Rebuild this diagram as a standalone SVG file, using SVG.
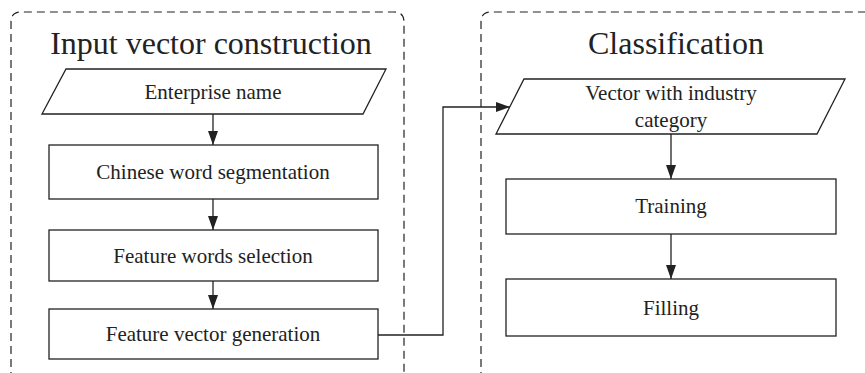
<svg xmlns="http://www.w3.org/2000/svg" width="865" height="373" viewBox="0 0 865 373">
<defs>
<style>
.box{fill:#fff;stroke:#222;stroke-width:1.3}
.cont{fill:none;stroke:#222;stroke-width:1.2;stroke-dasharray:8 5}
.lbl{font-family:"Liberation Serif","Times New Roman",serif;font-size:21px;fill:#222;text-anchor:middle}
.ttl{font-family:"Liberation Serif","Times New Roman",serif;font-size:32px;fill:#222;text-anchor:middle}
.edge{fill:none;stroke:#222;stroke-width:1.3}
</style>
<marker id="ahv" viewBox="0 0 14 10" refX="14" refY="5" markerWidth="14" markerHeight="10" markerUnits="userSpaceOnUse" orient="auto">
<path d="M0,0 L14,5 L0,10 Z" fill="#222"/>
</marker>
</defs>
<g id="container-input">
<path class="cont" d="M11,380 L11,22 Q11,12 21,12 L394,12 Q404,12 404,22 L404,380"/>
<text class="ttl" x="211" y="54">Input vector construction</text>
</g>
<g id="container-classification">
<path class="cont" d="M481,380 L481,22 Q481,12 491,12 L880,12"/>
<text class="ttl" x="676" y="54">Classification</text>
</g>
<g id="connectors">
<line class="edge" x1="213" y1="114" x2="213" y2="145" marker-end="url(#ahv)"/>
<line class="edge" x1="213" y1="199" x2="213" y2="230" marker-end="url(#ahv)"/>
<line class="edge" x1="213" y1="281" x2="213" y2="309" marker-end="url(#ahv)"/>
<polyline class="edge" points="378,335 443,335 443,107 510,107" marker-end="url(#ahv)"/>
<line class="edge" x1="671" y1="134" x2="671" y2="179" marker-end="url(#ahv)"/>
<line class="edge" x1="671" y1="234" x2="671" y2="279" marker-end="url(#ahv)"/>
</g>
<g id="enterprise-name">
<polygon class="box" points="66,69 386,69 363,114 42,114"/>
<text class="lbl" x="213" y="99">Enterprise name</text>
</g>
<g id="chinese-word-segmentation">
<rect class="box" x="49" y="145" width="329" height="54"/>
<text class="lbl" x="213" y="179">Chinese word segmentation</text>
</g>
<g id="feature-words-selection">
<rect class="box" x="49" y="230" width="329" height="51"/>
<text class="lbl" x="213" y="263">Feature words selection</text>
</g>
<g id="feature-vector-generation">
<rect class="box" x="49" y="309" width="329" height="50"/>
<text class="lbl" x="213" y="341">Feature vector generation</text>
</g>
<g id="vector-with-industry-category">
<polygon class="box" points="524,79 845,79 817,134 496,134"/>
<text class="lbl" x="671" y="100">Vector with industry</text>
<text class="lbl" x="671" y="127">category</text>
</g>
<g id="training">
<rect class="box" x="506" y="179" width="330" height="55"/>
<text class="lbl" x="671" y="213">Training</text>
</g>
<g id="filling">
<rect class="box" x="506" y="279" width="330" height="57"/>
<text class="lbl" x="671" y="315">Filling</text>
</g>
</svg>
